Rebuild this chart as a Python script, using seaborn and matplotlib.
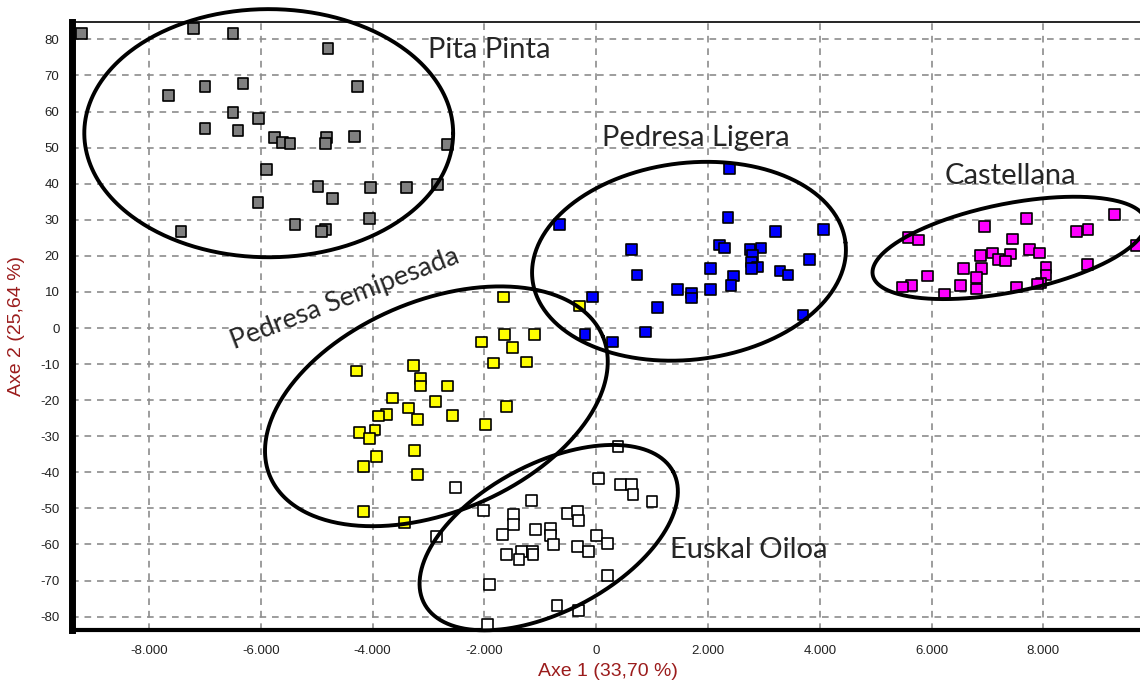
import numpy as np
import pandas as pd
import matplotlib
matplotlib.use("Agg")
import matplotlib.pyplot as plt
from matplotlib.ticker import MultipleLocator, FuncFormatter
import seaborn as sns

# ---------------- data ----------------
groups = ["Pita Pinta", "Pedresa Ligera", "Castellana", "Pedresa Semipesada", "Euskal Oiloa"]

pita_x = [-9.21, -7.21, -6.50, -4.80, -7.66, -7.00, -6.32, -4.27, -6.50, -6.04, -7.00, -6.41,
          -5.75, -5.61, -5.48, -4.82, -4.85, -4.32, -2.66, -5.90, -4.98, -4.04, -3.40, -2.84,
          -6.05, -4.72, -4.05, -7.43, -5.39, -4.84, -4.91]
pita_y = [81.7, 83.0, 81.7, 77.5, 64.4, 67.0, 67.8, 67.0, 59.7, 58.0, 55.3, 54.7,
          52.8, 51.4, 51.1, 52.8, 51.1, 53.0, 50.8, 43.9, 39.2, 38.9, 38.9, 39.7,
          34.7, 35.8, 30.3, 26.7, 28.6, 27.2, 26.7]

ligera_x = [2.38, 2.36, -0.66, 4.07, 3.21, 0.63, 2.20, 2.30, 2.75, 2.95, 2.80, 2.78, 3.82,
            2.05, 2.88, 2.78, 0.73, 3.29, 3.43, 2.46, 2.41, 1.45, 1.71, 1.71, 2.05, -0.07,
            1.09, 3.70, -0.20, 0.29, 0.88]
ligera_y = [44.2, 30.6, 28.6, 27.2, 26.7, 21.7, 23.0, 22.2, 21.7, 22.2, 20.0, 18.3, 18.9,
            16.4, 16.9, 16.4, 14.7, 15.8, 14.7, 14.4, 11.7, 10.6, 9.7, 8.3, 10.6, 8.6,
            5.6, 3.6, -1.7, -3.9, -1.1]

cast_x = [9.27, 7.70, 6.95, 8.80, 8.59, 5.59, 5.77, 7.45, 9.66, 7.75, 7.93, 7.09, 7.41,
          6.88, 7.20, 7.32, 8.05, 6.57, 6.89, 8.79, 8.05, 6.80, 5.93, 5.64, 5.48, 6.52,
          6.80, 7.52, 7.96, 7.89, 6.23]
cast_y = [31.4, 30.3, 28.1, 27.2, 26.7, 25.0, 24.4, 24.7, 22.8, 21.7, 20.8, 20.8, 20.5,
          20.0, 18.9, 18.6, 16.7, 16.4, 16.4, 17.5, 14.7, 13.9, 14.4, 11.7, 11.4, 11.7,
          10.8, 11.4, 12.5, 12.2, 9.4]

semi_x = [-1.66, -0.30, -1.64, -1.11, -2.05, -1.50, -1.84, -1.25, -4.29, -3.27, -3.14,
          -3.14, -2.66, -3.64, -2.88, -3.36, -1.61, -3.75, -3.89, -3.20, -2.57, -1.98,
          -4.23, -3.96, -4.05, -3.93, -3.25, -4.16, -3.20, -4.16, -3.43]
semi_y = [8.6, 6.1, -1.9, -1.7, -3.9, -5.3, -9.7, -9.4, -11.9, -10.3, -13.9,
          -16.1, -16.1, -19.4, -20.3, -22.2, -21.7, -23.9, -24.4, -25.3, -24.2, -26.7,
          -28.9, -28.3, -30.6, -35.6, -33.9, -38.3, -40.6, -50.8, -53.9]

eusk_x = [0.39, 0.04, 0.43, 0.63, 0.66, 1.00, -1.16, -2.52, -2.02, -1.48, -1.48, -1.68,
          -2.86, -1.09, -0.82, -0.82, -0.77, -0.52, -0.34, -0.32, 0.00, 0.20, -0.34,
          -0.14, -1.61, -1.34, -1.14, -1.13, -1.38, 0.20, -1.91, -0.70, -0.32, -1.95]
eusk_y = [-32.8, -41.7, -43.3, -43.3, -46.1, -48.1, -47.8, -44.2, -50.6, -51.7, -54.4,
          -57.2, -57.8, -55.8, -55.6, -57.5, -60.0, -51.4, -50.8, -53.3, -57.5, -59.7,
          -60.6, -61.9, -62.8, -61.9, -61.9, -62.8, -64.2, -68.6, -71.1, -76.9, -78.3, -82.2]

palette = {"Pita Pinta": "#808080", "Pedresa Ligera": "#0000FF", "Castellana": "#FF00FF",
           "Pedresa Semipesada": "#FFFF00", "Euskal Oiloa": "#FFFFFF"}

xlabel = "Axe 1 (33,70 %)"
ylabel = "Axe 2 (25,64 %)"

# ellipses: center x, center y, semi-axes (in x-axis units of screen length), angle (deg, on screen)
ell_cx = [-5.86, 1.66, 7.39, -2.86, -0.85]
ell_cy = [54.0, 18.5, 22.2, -21.7, -58.1]
ell_a = [3.30, 2.82, 2.49, 3.23, 2.52]
ell_b = [2.22, 1.76, 0.79, 1.89, 1.32]
ell_ang = [0.0, 6.8, 11.3, 22.8, 27.9]

# group labels
lab_text = ["Pita Pinta", "Pedresa Ligera", "Castellana", "Euskal Oiloa"]
lab_x = [-1.92, 1.79, 7.41, 2.73]
lab_y = [74.8, 50.4, 39.9, -63.7]
semi_lab = ("Pedresa Semipesada", -4.50, 8.0, 21)

# ---------------- build frame ----------------
frames = []
for g, xs, ys in [("Pita Pinta", pita_x, pita_y), ("Pedresa Ligera", ligera_x, ligera_y),
                  ("Castellana", cast_x, cast_y), ("Pedresa Semipesada", semi_x, semi_y),
                  ("Euskal Oiloa", eusk_x, eusk_y)]:
    frames.append(pd.DataFrame({"x": xs, "y": ys, "group": g}))
df = pd.concat(frames, ignore_index=True)

# ---------------- plot ----------------
sns.set_style("white")
plt.rcParams["font.family"] = ["Liberation Sans", "DejaVu Sans"]

fig = plt.figure(figsize=(11.4, 6.84), dpi=100)
ax = fig.add_axes([72 / 1140, 1 - 630 / 684, 1 - 72 / 1140, (630 - 21.7) / 684])

XMIN, XMAX = -9.38, 9.73
YMIN, YMAX = -83.7, 84.9
ax.set_xlim(XMIN, XMAX)
ax.set_ylim(YMIN, YMAX)

ax.xaxis.set_major_locator(MultipleLocator(2))
ax.yaxis.set_major_locator(MultipleLocator(10))
ax.xaxis.set_minor_locator(MultipleLocator(0.5))
ax.yaxis.set_minor_locator(MultipleLocator(2))
ax.grid(True, which="major", color="#8c8c8c", linestyle=(0, (4, 3.5)), linewidth=1.2)
ax.set_axisbelow(True)

sns.scatterplot(data=df, x="x", y="y", hue="group", palette=palette, hue_order=groups,
                marker="s", s=60, edgecolor="black", linewidth=1.2, legend=False, ax=ax,
                zorder=3, clip_on=False)

# ellipses in screen-proportional space
fig.canvas.draw()
bbox = ax.get_window_extent()
sx = (XMAX - XMIN) / bbox.width   # data x per pixel
sy = (YMAX - YMIN) / bbox.height  # data y per pixel
t = np.linspace(0, 2 * np.pi, 400)
for cx, cy, a, b, ang in zip(ell_cx, ell_cy, ell_a, ell_b, ell_ang):
    th = np.deg2rad(ang)
    apx, bpx = a / sx, b / sx
    dxp = apx * np.cos(t) * np.cos(th) - bpx * np.sin(t) * np.sin(th)
    dyp = apx * np.cos(t) * np.sin(th) + bpx * np.sin(t) * np.cos(th)
    ax.plot(cx + dxp * sx, cy + dyp * sy, color="black", lw=2.8, zorder=4, clip_on=False)

lab_font = ["Lato", "DejaVu Sans"]
for txt, x, y in zip(lab_text, lab_x, lab_y):
    ax.text(x, y, txt, ha="center", va="baseline", fontsize=21, family=lab_font, zorder=5)
ax.text(semi_lab[1], semi_lab[2], semi_lab[0], ha="center", va="center", rotation=semi_lab[3],
        rotation_mode="anchor", fontsize=19.5, family=lab_font, zorder=5)

# spines
ax.spines["right"].set_visible(False)
ax.spines["left"].set_linewidth(5)
ax.spines["left"].set_color("black")
ax.spines["bottom"].set_linewidth(3)
ax.spines["bottom"].set_color("black")
ax.spines["top"].set_linewidth(1.2)
ax.spines["top"].set_color("black")

ax.tick_params(axis="both", which="major", length=4, width=1, color="black",
               labelsize=9.5, labelcolor="#222222", direction="out")
ax.tick_params(axis="x", which="major", pad=7)
ax.tick_params(axis="y", which="major", pad=5)
ax.tick_params(axis="both", which="minor", length=3, width=1.5, color="#aaaaaa", direction="in")

ax.xaxis.set_major_formatter(FuncFormatter(lambda v, p: "0" if abs(v) < 1e-9 else f"{v:.3f}"))
ax.yaxis.set_major_formatter(FuncFormatter(lambda v, p: f"{int(round(v))}"))

ax.set_xlabel(xlabel, fontsize=14, color="#9b1c1c", va="center")
ax.set_ylabel(ylabel, fontsize=14, color="#9b1c1c", va="center")
ax.xaxis.set_label_coords((608 - 72) / 1068, -(672 - 630) / 608.3)
ax.yaxis.set_label_coords(-(72 - 17) / 1068, 0.5)

fig.savefig("out.png", dpi=100)
